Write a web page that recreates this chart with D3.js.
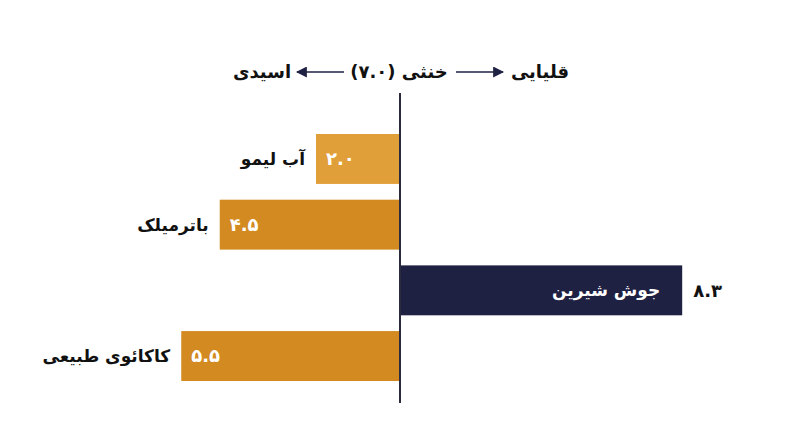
<!DOCTYPE html>
<html lang="fa">
<head>
<meta charset="UTF-8">
<title>pH</title>
<script src="https://d3js.org/d3.v7.min.js"></script>
<style>
  body { margin: 0; background: #fff; }
  svg { display: block; font-family: "DejaVu Sans", sans-serif; }
</style>
</head>
<body>
<svg width="800" height="447"></svg>
<script>
// data
const items = ["آب لیمو", "باترمیلک", "جوش شیرین", "کاکائوی طبیعی"];
const phValues = [2.0, 4.5, 8.3, 5.5];
const neutral = 7.0;
const headerLabels = ["اسیدی", "خنثی", "قلیایی"];

const svg = d3.select("svg");
const cx = 400;
const faDigits = "۰۱۲۳۴۵۶۷۸۹";
const fa = s => s.replace(/[0-9]/g, d => faDigits[+d]);
const fmt = d3.format(".1f");

// acidic bars grow left, alkaline bar grows right
const xLeft = d3.scaleLinear().domain([0, 10]).range([cx - 7, cx - 392]);
const xRight = d3.scaleLinear().domain([0, 10]).range([cx, cx + 340]);
const y = d3.scaleBand().domain(items).range([134, 381]).paddingInner(0.24);

const rows = items.map((name, i) => ({ name, v: phValues[i], acid: phValues[i] < neutral }));

const colorOf = d => d.name === items[0] ? "#e19f3a" : (d.acid ? "#d38a20" : "#1f2142");

const g = svg.append("g");
g.selectAll("rect").data(rows).join("rect")
  .attr("x", d => d.acid ? xLeft(d.v) : cx)
  .attr("width", d => d.acid ? cx - xLeft(d.v) : xRight(d.v) - cx)
  .attr("y", d => y(d.name))
  .attr("height", y.bandwidth())
  .attr("fill", colorOf);

// category labels
g.selectAll("text.name").data(rows).join("text")
  .attr("class", "name")
  .attr("x", d => d.acid ? xLeft(d.v) - 11 : xRight(d.v) - 22)
  .attr("y", d => y(d.name) + y.bandwidth() / 2)
  .attr("dy", "0.35em")
  .attr("text-anchor", "end")
  .attr("font-size", 17)
  .attr("font-weight", "bold")
  .attr("fill", d => d.acid ? "#111" : "#fff")
  .text(d => d.name);

// value labels
g.selectAll("text.val").data(rows).join("text")
  .attr("class", "val")
  .attr("x", d => d.acid ? xLeft(d.v) + 10 : xRight(d.v) + 11)
  .attr("y", d => y(d.name) + y.bandwidth() / 2)
  .attr("dy", "0.35em")
  .attr("text-anchor", "start")
  .attr("direction", "ltr")
  .attr("font-size", 18)
  .attr("font-weight", "bold")
  .attr("fill", d => d.acid ? "#fff" : "#111")
  .text(d => fa(fmt(d.v)));

// neutral line
svg.append("line")
  .attr("x1", cx).attr("x2", cx)
  .attr("y1", 93).attr("y2", 403)
  .attr("stroke", "#2b2b3f").attr("stroke-width", 2);

// header
const defs = svg.append("defs");
defs.append("marker").attr("id", "head")
  .attr("viewBox", "0 0 10 10").attr("refX", 9).attr("refY", 5)
  .attr("markerWidth", 11).attr("markerHeight", 11)
  .attr("markerUnits", "userSpaceOnUse")
  .attr("orient", "auto")
  .append("path").attr("d", "M0,0 L10,5 L0,10 Z").attr("fill", "#1f2142");

const hy = 72;
const head = svg.append("g").attr("font-size", 18).attr("font-weight", "bold").attr("fill", "#111");
head.append("text").attr("x", 262).attr("y", hy).attr("dy", "0.35em").attr("text-anchor", "middle").text(headerLabels[0]);
head.append("text").attr("x", 399).attr("y", hy).attr("dy", "0.35em").attr("text-anchor", "middle")
  .text(headerLabels[1] + " (" + fa(fmt(neutral)) + ")");
head.append("text").attr("x", 540).attr("y", hy).attr("dy", "0.35em").attr("text-anchor", "middle").text(headerLabels[2]);

svg.append("line").attr("x1", 344).attr("x2", 297).attr("y1", hy).attr("y2", hy)
  .attr("stroke", "#1f2142").attr("stroke-width", 1.5).attr("marker-end", "url(#head)");
svg.append("line").attr("x1", 456).attr("x2", 503).attr("y1", hy).attr("y2", hy)
  .attr("stroke", "#1f2142").attr("stroke-width", 1.5).attr("marker-end", "url(#head)");
</script>
</body>
</html>
